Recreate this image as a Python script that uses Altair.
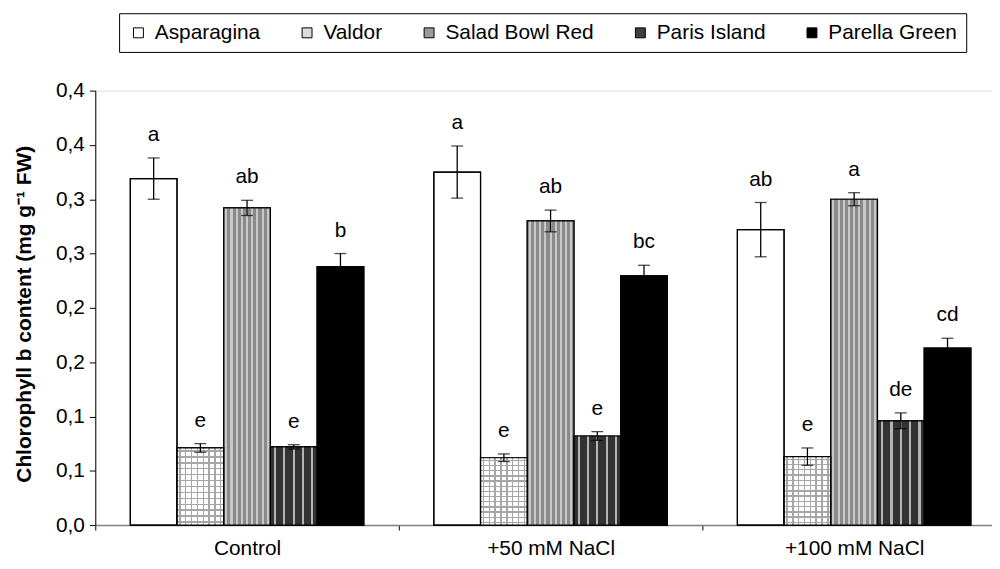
import altair as alt
import pandas as pd

groups = ["Control", "+50 mM NaCl", "+100 mM NaCl"]
cultivars = ["Asparagina", "Valdor", "Salad Bowl Red", "Paris Island", "Parella Green"]
colors = ["#ffffff", "#dcdcdc", "#9a9a9a", "#404040", "#000000"]

asparagina = [0.319, 0.325, 0.272]
asparagina_err = [0.019, 0.024, 0.025]
valdor = [0.071, 0.062, 0.063]
valdor_err = [0.004, 0.0035, 0.008]
salad_bowl_red = [0.292, 0.280, 0.300]
salad_bowl_red_err = [0.007, 0.010, 0.006]
paris_island = [0.072, 0.082, 0.096]
paris_island_err = [0.002, 0.004, 0.0073]
parella_green = [0.238, 0.2295, 0.163]
parella_green_err = [0.012, 0.0097, 0.009]

letters_asparagina = ["a", "a", "ab"]
letters_valdor = ["e", "e", "e"]
letters_sbr = ["ab", "ab", "a"]
letters_paris = ["e", "e", "de"]
letters_parella = ["b", "bc", "cd"]

series = [
    (asparagina, asparagina_err, letters_asparagina),
    (valdor, valdor_err, letters_valdor),
    (salad_bowl_red, salad_bowl_red_err, letters_sbr),
    (paris_island, paris_island_err, letters_paris),
    (parella_green, parella_green_err, letters_parella),
]

rows = []
for cv, (vals, errs, lets) in zip(cultivars, series):
    for g, v, e, l in zip(groups, vals, errs, lets):
        rows.append({"group": g, "cultivar": cv, "value": v,
                     "lo": v - e, "hi": v + e, "letter": l})
df = pd.DataFrame(rows)

FONT = "Liberation Sans"
FS = 21


def stripes(n, frac, line, bg, vertical):
    stops = []
    for i in range(n):
        a = (i + 0.5) / n - frac / 2
        b = (i + 0.5) / n + frac / 2
        stops += [{"offset": i / n, "color": bg}, {"offset": a, "color": bg},
                  {"offset": a, "color": line}, {"offset": b, "color": line},
                  {"offset": b, "color": bg}, {"offset": (i + 1) / n, "color": bg}]
    g = {"gradient": "linear", "stops": stops}
    if vertical:
        g.update({"x1": 0, "x2": 1, "y1": 0, "y2": 0})
    else:
        g.update({"x1": 0, "x2": 0, "y1": 0, "y2": 1})
    return g


x_enc = alt.X("group:N", sort=groups,
              scale=alt.Scale(range=[0, 918], paddingInner=0, paddingOuter=0),
              axis=alt.Axis(title=None, labelAngle=0, labelFontSize=FS, labelFont=FONT,
                            labelColor="black", labelPadding=8,
                            domainColor="#808080", domainWidth=1.5,
                            tickColor="black", tickSize=5, tickBand="extent"))
xo_enc = alt.XOffset("cultivar:N", sort=cultivars,
                     scale=alt.Scale(domain=cultivars, paddingInner=0, paddingOuter=0.75))

y_scale = alt.Scale(domain=[0, 0.4], nice=False)

base = alt.Chart(df).encode(x=x_enc, xOffset=xo_enc)

bars = base.mark_bar(stroke="black", strokeWidth=1.2).encode(
    y=alt.Y("value:Q", scale=y_scale,
            axis=alt.Axis(values=[0, 0.05, 0.1, 0.15, 0.2, 0.25, 0.3, 0.35, 0.4],
                          labelExpr="replace(format(round(datum.value*10+0.0001)/10, '.1f'), '.', ',')",
                          labelFontSize=FS, labelFont=FONT, labelColor="black",
                          labelPadding=5, grid=False,
                          domainColor="black", tickColor="black", tickSize=6,
                          title="Chlorophyll b content (mg g\u207b\u00b9 FW)",
                          titleFont=FONT, titleFontSize=21, titleFontWeight="bold",
                          titleColor="black", titleAngle=-90, titleX=-71, titleY=225,
                          titleAlign="center", titleBaseline="middle")),
    fill=alt.Fill("cultivar:N", sort=cultivars,
                  scale=alt.Scale(domain=cultivars, range=colors),
                  legend=alt.Legend(title=None, orient="none", legendX=24, legendY=-78,
                                    direction="horizontal", columns=5,
                                    symbolType="square", symbolSize=100,
                                    symbolStrokeColor="black", symbolStrokeWidth=1,
                                    labelFontSize=FS, labelFont=FONT, labelColor="black",
                                    labelOffset=6, columnPadding=36, padding=9,
                                    strokeColor="black")),
)


def overlay(name, grad):
    return base.transform_filter(alt.datum.cultivar == name).mark_bar(
        fill=grad, strokeWidth=0).encode(y=alt.Y("value:Q", scale=y_scale))


patterns = [
    overlay("Valdor", stripes(8, 0.03, "#a6a6a6", "#ffffff", True)),
    overlay("Valdor", stripes(13, 0.02, "#a6a6a6", "transparent", False)),
    overlay("Salad Bowl Red", stripes(9, 0.045, "#c8c8c8", "#8a8a8a", True)),
    overlay("Paris Island", stripes(5, 0.045, "#b4b4b4", "#333333", True)),
]

outline = base.mark_bar(fillOpacity=0, stroke="black", strokeWidth=1.2).encode(
    y=alt.Y("value:Q", scale=y_scale))

err_rule = base.mark_rule(color="black", strokeWidth=1.3).encode(
    y=alt.Y("lo:Q", scale=y_scale), y2="hi:Q")
cap_lo = base.mark_tick(color="black", size=12, thickness=1.3, orient="horizontal").encode(
    y=alt.Y("lo:Q", scale=y_scale))
cap_hi = base.mark_tick(color="black", size=12, thickness=1.3, orient="horizontal").encode(
    y=alt.Y("hi:Q", scale=y_scale))
labels = base.mark_text(fontSize=FS, font=FONT, color="black", baseline="alphabetic",
                        dy=-17).encode(
    y=alt.Y("hi:Q", scale=y_scale), text="letter:N")

chart = alt.layer(bars, *patterns, outline, err_rule, cap_lo, cap_hi, labels).properties(
    width=904, height=438, autosize="none",
    padding={"left": 88, "top": 81, "right": 0, "bottom": 42},
).configure_view(stroke=None).configure(background="white")

chart.save("out.html", embed_options={"renderer": "svg", "actions": False})
